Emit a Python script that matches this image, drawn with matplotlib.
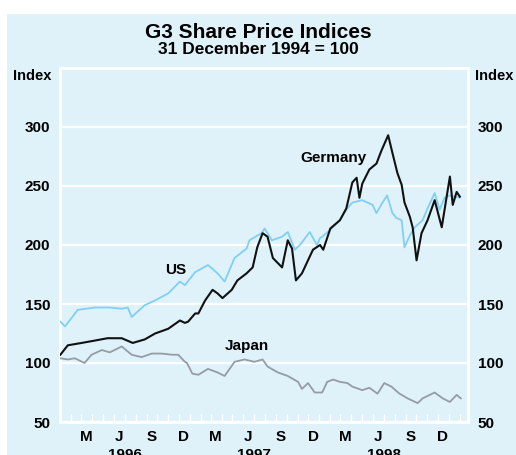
import pandas as pd
import numpy as np
import matplotlib.pyplot as plt
import matplotlib.dates as mdates
from matplotlib.patches import Rectangle

plt.rcParams['font.family'] = ['Liberation Sans', 'DejaVu Sans']
plt.rcParams['font.weight'] = 'bold'

# ---- data (index 31 Dec 1994 = 100) ----
us_dates = ['1996-01-02', '1996-01-15', '1996-02-20', '1996-04-08', '1996-05-20', '1996-06-23',
            '1996-07-10', '1996-07-21', '1996-08-27', '1996-09-25', '1996-11-01', '1996-12-04',
            '1996-12-18', '1997-01-16', '1997-02-21', '1997-03-20', '1997-04-09', '1997-05-07',
            '1997-06-10', '1997-06-18', '1997-07-22', '1997-07-31', '1997-08-20', '1997-09-18',
            '1997-10-04', '1997-10-24', '1997-11-07', '1997-12-05', '1997-12-25', '1998-01-03',
            '1998-01-09', '1998-02-01', '1998-02-28', '1998-03-18', '1998-04-04', '1998-05-02',
            '1998-05-31', '1998-06-11', '1998-06-28', '1998-07-11', '1998-07-26', '1998-08-06',
            '1998-08-21', '1998-08-29', '1998-09-13', '1998-09-27', '1998-10-19', '1998-11-02',
            '1998-11-22', '1998-12-06', '1998-12-20', '1999-01-04', '1999-02-01']
us_vals = [135, 131, 145, 147, 147, 146,
           147, 139, 149, 153, 159, 169,
           166, 177, 183, 176, 169, 189,
           197, 204, 210, 214, 204, 207,
           211, 196, 200, 211, 200, 206,
           207, 213, 221, 230, 236, 238,
           234, 227, 236, 242, 227, 223,
           221, 198, 208, 215, 221, 231,
           244, 230, 240, 242, 240]

ger_dates = ['1996-01-02', '1996-01-23', '1996-03-02', '1996-04-08', '1996-05-14', '1996-06-23',
             '1996-07-24', '1996-08-27', '1996-09-25', '1996-11-01', '1996-12-04', '1996-12-18',
             '1996-12-27', '1997-01-16', '1997-01-25', '1997-02-13', '1997-03-06', '1997-03-20',
             '1997-04-03', '1997-04-29', '1997-05-15', '1997-06-10', '1997-06-27', '1997-07-10',
             '1997-07-25', '1997-08-08', '1997-08-23', '1997-09-18', '1997-10-04', '1997-10-16',
             '1997-10-27', '1997-11-13', '1997-11-30', '1997-12-14', '1998-01-03', '1998-01-12',
             '1998-02-01', '1998-02-28', '1998-03-18', '1998-04-04', '1998-04-16', '1998-04-24',
             '1998-05-02', '1998-05-22', '1998-06-11', '1998-06-25', '1998-07-14', '1998-07-26',
             '1998-08-09', '1998-08-21', '1998-08-29', '1998-09-13', '1998-09-21', '1998-10-02',
             '1998-10-16', '1998-11-02', '1998-11-22', '1998-12-12', '1998-12-20', '1999-01-04',
             '1999-01-12', '1999-01-23', '1999-02-01']
ger_vals = [107, 115, 117, 119, 121, 121,
            117, 120, 125, 129, 136, 134,
            135, 142, 142, 153, 162, 159,
            155, 162, 170, 176, 181, 198,
            210, 207, 189, 181, 204, 197,
            170, 176, 187, 196, 200, 196,
            214, 221, 231, 253, 257, 240,
            252, 264, 269, 280, 293, 278,
            261, 251, 236, 224, 215, 187,
            210, 221, 238, 215, 230, 258,
            234, 245, 241]

jap_dates = ['1996-01-02', '1996-01-23', '1996-02-12', '1996-03-10', '1996-03-30', '1996-04-28',
             '1996-05-20', '1996-06-23', '1996-07-21', '1996-08-18', '1996-09-16', '1996-10-14',
             '1996-11-12', '1996-11-29', '1996-12-18', '1996-12-24', '1997-01-08', '1997-01-25',
             '1997-02-21', '1997-03-20', '1997-04-09', '1997-05-07', '1997-06-04', '1997-07-02',
             '1997-07-25', '1997-08-08', '1997-09-06', '1997-10-04', '1997-11-02', '1997-11-13',
             '1997-11-30', '1997-12-19', '1998-01-03', '1998-01-09', '1998-01-23', '1998-02-09',
             '1998-02-28', '1998-03-21', '1998-04-04', '1998-05-02', '1998-05-22', '1998-06-14',
             '1998-07-03', '1998-07-23', '1998-08-15', '1998-09-07', '1998-10-05', '1998-10-19',
             '1998-11-22', '1998-12-15', '1999-01-04', '1999-01-23', '1999-02-04']
jap_vals = [104, 103, 104, 100, 107, 111,
            109, 114, 107, 105, 108, 108,
            107, 107, 101, 100, 91, 90,
            95, 92, 89, 101, 103, 101,
            103, 97, 92, 89, 84, 78,
            83, 75, 75, 75, 84, 86,
            84, 83, 80, 77, 79, 74,
            83, 80, 74, 70, 66, 70,
            75, 70, 67, 73, 70]

y_ticks = [50, 100, 150, 200, 250, 300]
years = [1996, 1997, 1998]

bg = '#dff2fa'

fig = plt.figure(figsize=(5.16, 4.55), dpi=100, facecolor='white')
fig.patches.append(Rectangle((7 / 516, 0), 1, 1 - 14 / 455, transform=fig.transFigure,
                             facecolor=bg, edgecolor='none', zorder=-1))

ax = fig.add_axes([60 / 516, 1 - 422 / 455, 408 / 516, 354 / 455])
ax.set_facecolor(bg)

ax.plot(pd.to_datetime(jap_dates), jap_vals, color='#959ca3', lw=1.3, zorder=3)
ax.plot(pd.to_datetime(us_dates), us_vals, color='#80cff5', lw=1.3, zorder=4)
ax.plot(pd.to_datetime(ger_dates), ger_vals, color='#111111', lw=1.5, zorder=5)

ax.set_ylim(50, 350)
ax.set_xlim(pd.Timestamp('1996-01-01'), pd.Timestamp('1999-02-24'))

for s in ax.spines.values():
    s.set_color('white')
    s.set_linewidth(2)

ax.set_yticks(y_ticks)
ax.yaxis.grid(True, color='white', lw=1.6)
ax.set_axisbelow(True)
ax.tick_params(axis='y', length=0, labelsize=11, pad=7, labelright=True, right=False)

# monthly tick marks, quarter letters centred on the month
ax.xaxis.set_major_locator(mdates.MonthLocator())
ax.xaxis.set_major_formatter(plt.NullFormatter())
ax.xaxis.set_minor_locator(mdates.MonthLocator(bymonth=[3, 6, 9, 12], bymonthday=15))
ax.xaxis.set_minor_formatter(plt.FuncFormatter(lambda v, p: mdates.num2date(v).strftime('%b')[0]))
ax.tick_params(axis='x', which='major', direction='in', length=6, width=1, color='white')
ax.tick_params(axis='x', which='minor', length=0, labelsize=11, pad=6)

for yr in years:
    ax.text(pd.Timestamp(f'{yr}-07-01'), -0.093, str(yr), transform=ax.get_xaxis_transform(),
            ha='center', va='center', fontsize=11, clip_on=False)

fig.text(0.5, 1 - 33 / 455, 'G3 Share Price Indices', ha='center', va='center', fontsize=15)
fig.text(0.5, 1 - 50 / 455, '31 December 1994 = 100', ha='center', va='center', fontsize=12.5)
fig.text(32 / 516, 1 - 76 / 455, 'Index', ha='center', va='center', fontsize=10.5)
fig.text(494 / 516, 1 - 76 / 455, 'Index', ha='center', va='center', fontsize=10.5)

ax.text(pd.Timestamp('1998-02-09'), 274, 'Germany', ha='center', va='center', fontsize=11)
ax.text(pd.Timestamp('1996-11-23'), 179, 'US', ha='center', va='center', fontsize=11)
ax.text(pd.Timestamp('1997-06-10'), 114, 'Japan', ha='center', va='center', fontsize=11)

plt.savefig('out.png', dpi=100, facecolor=fig.get_facecolor())
